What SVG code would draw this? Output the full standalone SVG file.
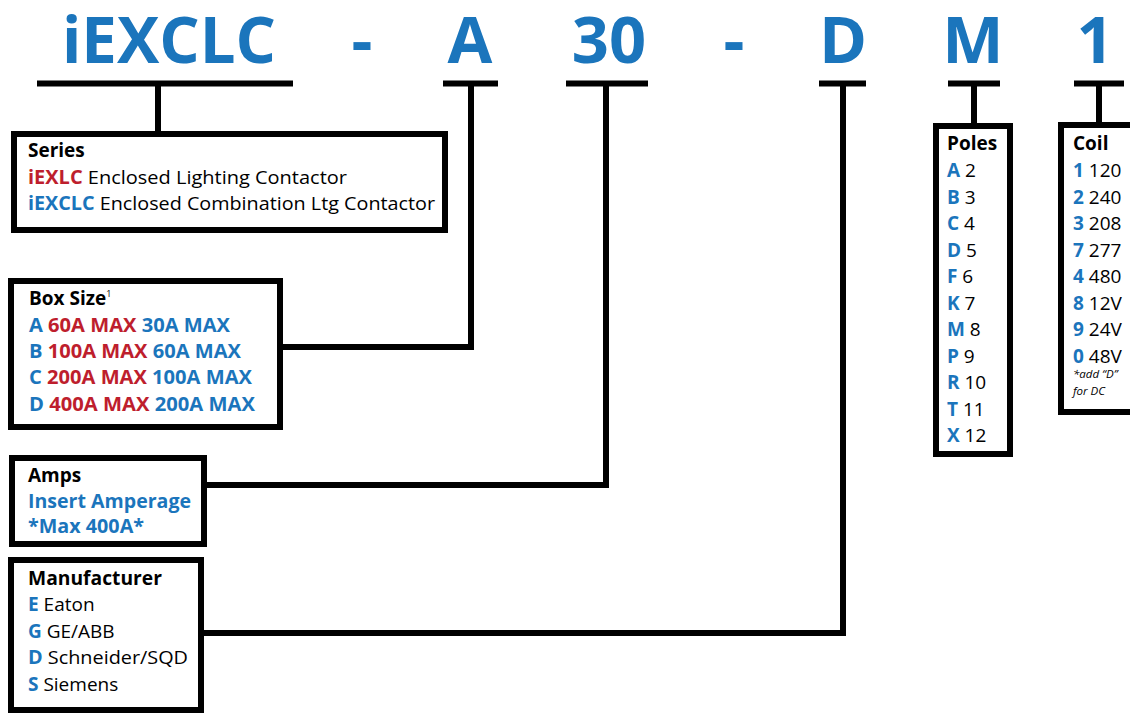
<svg xmlns="http://www.w3.org/2000/svg" width="1130" height="715" viewBox="0 0 1130 715">
<style>
.hd{font-family:"Open Sans","Liberation Sans",sans-serif;font-weight:bold;font-size:65px;fill:#1b75bc;text-anchor:middle}
.t{font-family:"Open Sans","Liberation Sans",sans-serif;font-size:19px;fill:#000}
.b{font-weight:bold}
.bl{fill:#1b75bc;font-weight:bold}
.rd{fill:#be1e2d;font-weight:bold}
.box{fill:#fff;stroke:#000;stroke-width:6}
.ln{fill:none;stroke:#000;stroke-width:6;stroke-linejoin:miter;stroke-linecap:butt}
.it{font-family:"Open Sans","Liberation Sans",sans-serif;font-size:11.5px;font-style:italic;fill:#000}
</style>
<rect width="1130" height="715" fill="#fff"/>
<g id="header">
<text class="hd" x="62" y="63" style="text-anchor:start" textLength="214" lengthAdjust="spacingAndGlyphs">iEXCLC</text>
<text class="hd" x="362" y="63">-</text>
<text class="hd" x="470" y="63">A</text>
<text class="hd" x="609" y="63">30</text>
<text class="hd" x="734" y="63">-</text>
<text class="hd" x="843" y="63">D</text>
<text class="hd" x="973" y="63">M</text>
<text class="hd" x="1095" y="63">1</text>
</g>
<g id="connectors">
<path class="ln" d="M37 83.5H293M158 83.5V134"/>
<path class="ln" d="M443 83.5H498M471 83.5V347H283"/>
<path class="ln" d="M566 83.5H648M606 83.5V485H207"/>
<path class="ln" d="M819 83.5H866M843 83.5V633H204"/>
<path class="ln" d="M948 83.5H1000M974 83.5V126"/>
<path class="ln" d="M1074 83.5H1124M1099 83.5V125"/>
</g>
<g id="series">
<rect class="box" x="14" y="134" width="431" height="96"/>
<text class="t b" x="28" y="157">Series</text>
<text class="t" x="28" y="184" textLength="319" lengthAdjust="spacingAndGlyphs"><tspan class="rd">iEXLC</tspan> Enclosed Lighting Contactor</text>
<text class="t" x="28" y="210" textLength="407" lengthAdjust="spacingAndGlyphs"><tspan class="bl">iEXCLC</tspan> Enclosed Combination Ltg Contactor</text>
</g>
<g id="boxsize">
<rect class="box" x="11" y="281" width="269" height="146"/>
<text class="t b" x="29" y="305">Box Size<tspan font-size="9" dy="-8" font-weight="normal">1</tspan></text>
<text class="t" x="29" y="332" textLength="201" lengthAdjust="spacingAndGlyphs"><tspan class="bl">A</tspan> <tspan class="rd">60A MAX</tspan> <tspan class="bl">30A MAX</tspan></text>
<text class="t" x="29" y="358" textLength="212" lengthAdjust="spacingAndGlyphs"><tspan class="bl">B</tspan> <tspan class="rd">100A MAX</tspan> <tspan class="bl">60A MAX</tspan></text>
<text class="t" x="29" y="384" textLength="223" lengthAdjust="spacingAndGlyphs"><tspan class="bl">C</tspan> <tspan class="rd">200A MAX</tspan> <tspan class="bl">100A MAX</tspan></text>
<text class="t" x="29" y="411" textLength="226" lengthAdjust="spacingAndGlyphs"><tspan class="bl">D</tspan> <tspan class="rd">400A MAX</tspan> <tspan class="bl">200A MAX</tspan></text>
</g>
<g id="amps">
<rect class="box" x="12" y="458" width="192" height="86"/>
<text class="t b" x="28" y="482">Amps</text>
<text class="t bl" x="28" y="508" textLength="163" lengthAdjust="spacingAndGlyphs">Insert Amperage</text>
<text class="t bl" x="28" y="533" textLength="116" lengthAdjust="spacingAndGlyphs">*Max 400A*</text>
</g>
<g id="manufacturer">
<rect class="box" x="11" y="560" width="190" height="150"/>
<text class="t b" x="28" y="585" textLength="134" lengthAdjust="spacingAndGlyphs">Manufacturer</text>
<text class="t" x="28" y="611"><tspan class="bl">E</tspan> Eaton</text>
<text class="t" x="28" y="638"><tspan class="bl">G</tspan> GE/ABB</text>
<text class="t" x="28" y="664" textLength="160" lengthAdjust="spacingAndGlyphs"><tspan class="bl">D</tspan> Schneider/SQD</text>
<text class="t" x="28" y="691"><tspan class="bl">S</tspan> Siemens</text>
</g>
<g id="poles">
<rect class="box" x="936" y="126" width="74" height="328"/>
<text class="t b" x="947" y="150">Poles</text>
<text class="t" x="947" y="177"><tspan class="bl">A</tspan> 2</text>
<text class="t" x="947" y="203.5"><tspan class="bl">B</tspan> 3</text>
<text class="t" x="947" y="230"><tspan class="bl">C</tspan> 4</text>
<text class="t" x="947" y="256.5"><tspan class="bl">D</tspan> 5</text>
<text class="t" x="947" y="283"><tspan class="bl">F</tspan> 6</text>
<text class="t" x="947" y="309.5"><tspan class="bl">K</tspan> 7</text>
<text class="t" x="947" y="336"><tspan class="bl">M</tspan> 8</text>
<text class="t" x="947" y="362.5"><tspan class="bl">P</tspan> 9</text>
<text class="t" x="947" y="389"><tspan class="bl">R</tspan> 10</text>
<text class="t" x="947" y="415.5"><tspan class="bl">T</tspan> 11</text>
<text class="t" x="947" y="442"><tspan class="bl">X</tspan> 12</text>
</g>
<g id="coil">
<rect class="box" x="1061" y="125" width="90" height="287"/>
<text class="t b" x="1073" y="150">Coil</text>
<text class="t" x="1073" y="177"><tspan class="bl">1</tspan> 120</text>
<text class="t" x="1073" y="203.5"><tspan class="bl">2</tspan> 240</text>
<text class="t" x="1073" y="230"><tspan class="bl">3</tspan> 208</text>
<text class="t" x="1073" y="256.5"><tspan class="bl">7</tspan> 277</text>
<text class="t" x="1073" y="283"><tspan class="bl">4</tspan> 480</text>
<text class="t" x="1073" y="309.5"><tspan class="bl">8</tspan> 12V</text>
<text class="t" x="1073" y="336"><tspan class="bl">9</tspan> 24V</text>
<text class="t" x="1073" y="362.5"><tspan class="bl">0</tspan> 48V</text>
<text class="it" x="1073" y="378">*add “D”</text>
<text class="it" x="1073" y="395">for DC</text>
</g>
</svg>
